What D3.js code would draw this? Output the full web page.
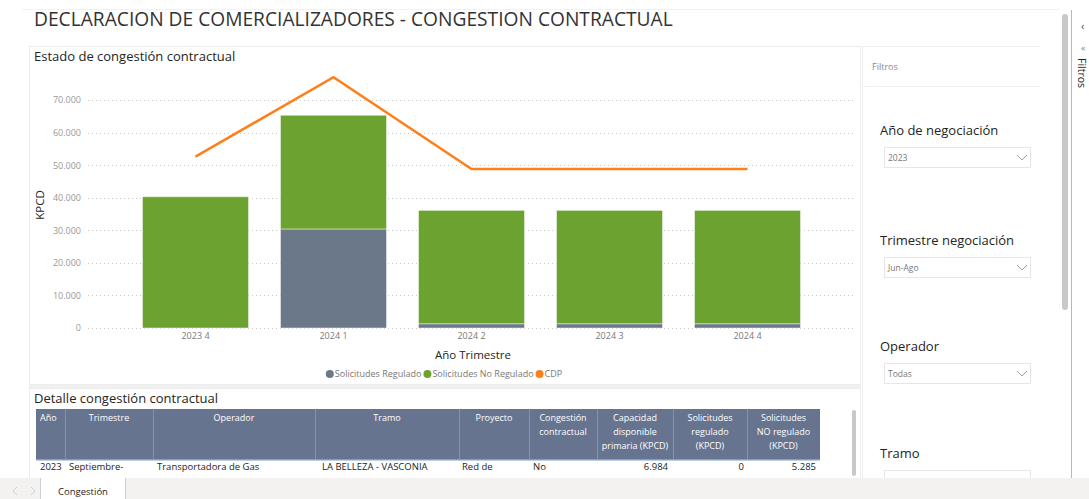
<!DOCTYPE html>
<html>
<head>
<meta charset="utf-8">
<script src="https://cdn.jsdelivr.net/npm/d3@7"></script>
<style>
  html, body { margin: 0; padding: 0; background: #ffffff; }
  svg { display: block; font-family: "Open Sans", "Noto Sans", sans-serif; }
</style>
</head>
<body>
<svg id="page" width="1089" height="499"></svg>
<script>
// ---------- data ----------
const categories = ["2023 4", "2024 1", "2024 2", "2024 3", "2024 4"];
const solicitudesRegulado = [0, 30400, 1300, 1300, 1300];
const solicitudesNoRegulado = [40300, 34900, 34800, 34800, 34800];
const cdp = [52600, 77000, 48800, 48800, 48800];
const yTicks = [0, 10000, 20000, 30000, 40000, 50000, 60000, 70000];
const seriesNames = ["Solicitudes Regulado", "Solicitudes No Regulado", "CDP"];
const seriesColors = ["#6A788A", "#6CA330", "#FF7F1A"];

const tableHeaders = [
  ["Año"], ["Trimestre"], ["Operador"], ["Tramo"], ["Proyecto"],
  ["Congestión", "contractual"], ["Capacidad", "disponible", "primaria (KPCD)"],
  ["Solicitudes", "regulado", "(KPCD)"], ["Solicitudes", "NO regulado", "(KPCD)"]
];
const tableRow = ["2023", "Septiembre-", "Transportadora de Gas", "LA BELLEZA - VASCONIA", "Red de", "No", "6.984", "0", "5.285"];
const slicerTitles = ["Año de negociación", "Trimestre negociación", "Operador", "Tramo"];
const slicerValues = ["2023", "Jun-Ago", "Todas", ""];

// ---------- helpers ----------
const svg = d3.select("#page");
const loc = d3.formatLocale({decimal: ",", thousands: ".", grouping: [3], currency: ["", ""]});
const fmt = loc.format(",");

// ---------- page frame ----------
svg.append("line").attr("x1", 22).attr("x2", 1060).attr("y1", 9.5).attr("y2", 9.5)
  .attr("stroke", "#f2f2f2");

svg.append("text").attr("x", 34).attr("y", 26)
  .attr("font-size", 19.2).attr("fill", "#333333")
  .text("DECLARACION DE COMERCIALIZADORES - CONGESTION CONTRACTUAL");

// chart panel
svg.append("rect").attr("x", 29.5).attr("y", 46.5).attr("width", 831).attr("height", 338)
  .attr("fill", "#ffffff").attr("stroke", "#ececec");
svg.append("rect").attr("x", 29).attr("y", 385).attr("width", 832).attr("height", 3).attr("fill", "#f1f1f1");
svg.append("text").attr("x", 34).attr("y", 61).attr("font-size", 13).attr("fill", "#252423")
  .text("Estado de congestión contractual");

// ---------- chart ----------
const x = d3.scaleBand().domain(categories).range([88, 855]).paddingInner(0.232).paddingOuter(0.395);
const y = d3.scaleLinear().domain([0, 80000]).range([328, 67.4]);

// gridlines
svg.append("g").selectAll("line").data(yTicks).join("line")
  .attr("x1", 88).attr("x2", 855)
  .attr("y1", d => Math.round(y(d)) + 0.5).attr("y2", d => Math.round(y(d)) + 0.5)
  .attr("stroke", "#c8c8c8").attr("stroke-dasharray", "1,3");

// y axis
const yAxis = d3.axisLeft(y).tickValues(yTicks).tickFormat(fmt).tickSize(0).tickPadding(0);
const gy = svg.append("g").attr("transform", "translate(81,0)").call(yAxis);
gy.select(".domain").remove();
gy.selectAll("text").attr("font-size", 9).attr("fill", "#9a9896").attr("font-family", "Open Sans");

// x axis
const xAxis = d3.axisBottom(x).tickSize(0).tickPadding(4);
const gx = svg.append("g").attr("transform", "translate(0,329)").call(xAxis);
gx.select(".domain").remove();
gx.selectAll("text").attr("font-size", 9).attr("fill", "#7a7876").attr("font-family", "Open Sans");

// stacked bars
const stackData = categories.map((c, i) => ({cat: c, reg: solicitudesRegulado[i], noreg: solicitudesNoRegulado[i]}));
const stacked = d3.stack().keys(["reg", "noreg"])(stackData);
svg.append("g").selectAll("g").data(stacked).join("g")
  .attr("fill", (d, i) => seriesColors[i])
  .selectAll("rect").data(d => d).join("rect")
  .attr("x", d => x(d.data.cat))
  .attr("width", x.bandwidth())
  .attr("y", d => y(d[1]))
  .attr("height", d => Math.max(0, y(d[0]) - y(d[1])))
  .attr("stroke", "rgba(255,255,255,0.45)").attr("stroke-width", 1);

// CDP line
const line = d3.line().x((d, i) => x(categories[i]) + x.bandwidth() / 2).y(d => y(d));
svg.append("path").datum(cdp).attr("d", line)
  .attr("fill", "none").attr("stroke", seriesColors[2]).attr("stroke-width", 2.5)
  .attr("stroke-linejoin", "miter");

// axis titles
svg.append("text").attr("transform", "translate(44,205) rotate(-90)")
  .attr("text-anchor", "middle").attr("font-size", 11.5).attr("fill", "#252423").text("KPCD");
svg.append("text").attr("x", 473).attr("y", 359).attr("text-anchor", "middle")
  .attr("font-size", 11.5).attr("fill", "#252423").text("Año Trimestre");

// legend
const lg = svg.append("g");
let lx = 0;
seriesNames.forEach((n, i) => {
  const g = lg.append("g").attr("transform", `translate(${lx},0)`);
  g.append("circle").attr("cx", 4).attr("cy", 0).attr("r", 4).attr("fill", seriesColors[i]);
  const t = g.append("text").attr("x", 9).attr("y", 3.3).attr("font-size", 9).attr("fill", "#7a7876").text(n);
  lx += 9 + t.node().getComputedTextLength() + 2;
});
lg.attr("transform", `translate(${445 - lx / 2},374)`);

// ---------- table panel ----------
svg.append("rect").attr("x", 29.5).attr("y", 388.5).attr("width", 831).attr("height", 90)
  .attr("fill", "#ffffff").attr("stroke", "#ececec");
svg.append("text").attr("x", 34).attr("y", 403).attr("font-size", 13).attr("fill", "#252423")
  .text("Detalle congestión contractual");

const colEdges = [36, 65, 153, 315, 459, 529, 597, 673, 747, 820];
const colAlign = ["start", "middle", "middle", "middle", "middle", "middle", "middle", "middle", "middle"];
svg.append("rect").attr("x", 36).attr("y", 409).attr("width", 784).attr("height", 51).attr("fill", "#66748F");
svg.append("rect").attr("x", 36).attr("y", 459).attr("width", 784).attr("height", 1.5).attr("fill", "#7d9fd0");
svg.append("g").selectAll("line").data(colEdges.slice(1, -1)).join("line")
  .attr("x1", d => d + 0.5).attr("x2", d => d + 0.5).attr("y1", 409).attr("y2", 459)
  .attr("stroke", "#8792aa");
tableHeaders.forEach((lines, i) => {
  const cx = colAlign[i] === "start" ? colEdges[i] + 4 : (colEdges[i] + colEdges[i + 1]) / 2;
  lines.forEach((l, j) => {
    svg.append("text").attr("x", cx).attr("y", 421 + j * 14)
      .attr("text-anchor", colAlign[i]).attr("font-size", 9).attr("fill", "#ffffff").text(l);
  });
});
const rowAlign = ["start", "start", "start", "start", "start", "start", "end", "end", "end"];
const rowX = [40, 69, 157, 322, 462, 533, 668, 744, 816];
tableRow.forEach((v, i) => {
  svg.append("text").attr("x", rowX[i]).attr("y", 470).attr("text-anchor", rowAlign[i])
    .attr("font-size", 9.5).attr("fill", "#252423").text(v);
});
svg.append("rect").attr("x", 852).attr("y", 410).attr("width", 4).attr("height", 66).attr("rx", 2).attr("fill", "#c8c8c8");

// ---------- filter pane ----------
svg.append("line").attr("x1", 862.5).attr("x2", 862.5).attr("y1", 46).attr("y2", 478).attr("stroke", "#efefef");
svg.append("line").attr("x1", 862).attr("x2", 1040).attr("y1", 46.5).attr("y2", 46.5).attr("stroke", "#efefef");
svg.append("text").attr("x", 872).attr("y", 70).attr("font-size", 9).attr("fill", "#8a8886").text("Filtros");
svg.append("line").attr("x1", 862).attr("x2", 1040).attr("y1", 86.5).attr("y2", 86.5).attr("stroke", "#efefef");

const slicerTop = [147, 257, 363, 470];
slicerTitles.forEach((t, i) => {
  const top = slicerTop[i];
  svg.append("text").attr("x", 880).attr("y", top - 12).attr("font-size", 13).attr("fill", "#252423").text(t);
  svg.append("rect").attr("x", 884.5).attr("y", top + 0.5).attr("width", 146).attr("height", 20)
    .attr("fill", "#ffffff").attr("stroke", "#e6e6e6");
  if (slicerValues[i]) {
    svg.append("text").attr("x", 888).attr("y", top + 13.5).attr("font-size", 8.5).attr("fill", "#7a7876").text(slicerValues[i]);
    svg.append("path").attr("d", `M${1017},${top + 8} L${1022},${top + 13} L${1027},${top + 8}`)
      .attr("fill", "none").attr("stroke", "#a0a0a0").attr("stroke-width", 1);
  }
});

// page scrollbar and side strip
svg.append("rect").attr("x", 1062).attr("y", 14).attr("width", 6).attr("height", 296).attr("rx", 3).attr("fill", "#c8c8c8");
svg.append("line").attr("x1", 1071.5).attr("x2", 1071.5).attr("y1", 10).attr("y2", 478).attr("stroke", "#b8b8b8");
svg.append("text").attr("x", 1081).attr("y", 30).attr("font-size", 11).attr("fill", "#444").text("‹");
svg.append("text").attr("x", 1081).attr("y", 51).attr("font-size", 9).attr("fill", "#888").text("«");
svg.append("text").attr("transform", "translate(1078,58) rotate(90)").attr("font-size", 10.5)
  .attr("fill", "#252423").text("Filtros");

// ---------- bottom tab bar ----------
svg.append("rect").attr("x", 0).attr("y", 478).attr("width", 1089).attr("height", 21).attr("fill", "#f3f2f1");
svg.append("rect").attr("x", 40).attr("y", 478).attr("width", 86).attr("height", 21).attr("fill", "#ffffff");
svg.append("line").attr("x1", 40.5).attr("x2", 40.5).attr("y1", 478).attr("y2", 499).attr("stroke", "#d0d0d0");
svg.append("line").attr("x1", 125.5).attr("x2", 125.5).attr("y1", 478).attr("y2", 499).attr("stroke", "#d0d0d0");
svg.append("text").attr("x", 83).attr("y", 495).attr("text-anchor", "middle").attr("font-size", 9.5)
  .attr("fill", "#252423").text("Congestión");
svg.append("path").attr("d", "M17,487 L13,491 L17,495").attr("fill", "none").attr("stroke", "#cfcfcf");
svg.append("path").attr("d", "M31,487 L35,491 L31,495").attr("fill", "none").attr("stroke", "#cfcfcf");
</script>
</body>
</html>
